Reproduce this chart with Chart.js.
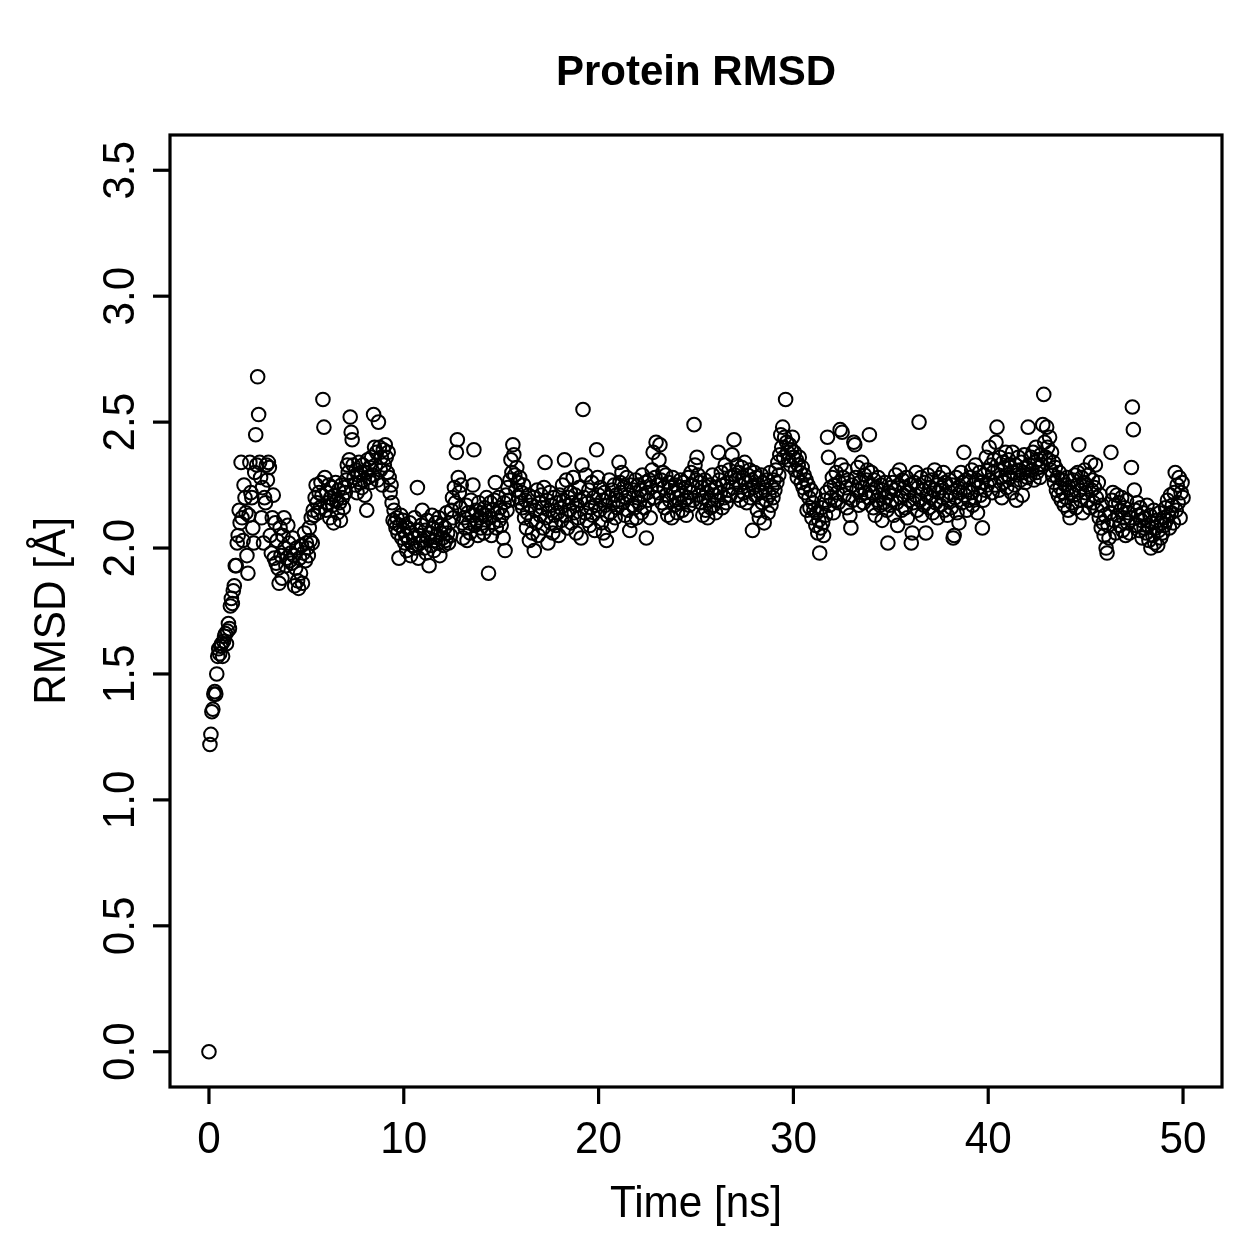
<!DOCTYPE html>
<html>
<head>
<meta charset="utf-8">
<script src="https://cdn.jsdelivr.net/npm/chart.js@4/dist/chart.umd.min.js"></script>
<style>
html,body{margin:0;padding:0;background:#fff;}
canvas{display:block;}
</style>
</head>
<body>
<canvas id="c" width="1259" height="1259" style="width:1259px;height:1259px"></canvas>
<script>
// ---- data ----
const chartTitle = "Protein RMSD";
const xTitle = "Time [ns]";
const yTitle = "RMSD [Å]";
const timeStepNs = 0.05; // one frame every 0.05 ns
const xTicks = [0, 10, 20, 30, 40, 50];
const xTickLabels = ["0", "10", "20", "30", "40", "50"];
const yTicks = [0, 0.5, 1, 1.5, 2, 2.5, 3, 3.5];
const yTickLabels = ["0.0", "0.5", "1.0", "1.5", "2.0", "2.5", "3.0", "3.5"];
const rmsd = [
0.00,
1.22,1.26,1.35,1.36,1.42,1.43,1.42,1.50,1.57,1.60,1.58,1.61,1.62,1.57,1.63,1.65,1.66,1.62,1.67,1.70,
1.68,1.77,1.80,1.78,1.83,1.85,1.93,1.93,2.02,2.05,2.15,2.10,2.34,2.12,2.03,2.25,2.20,2.14,1.97,1.90,
2.13,2.34,2.22,2.20,2.08,2.02,2.30,2.45,2.33,2.68,2.53,2.34,2.28,2.12,2.24,2.02,2.20,2.18,2.33,2.27,
2.34,2.32,2.05,1.98,2.12,2.21,1.96,2.10,1.94,2.03,1.92,1.86,2.08,1.97,1.88,2.05,2.12,2.00,1.93,1.96,
2.09,2.02,1.95,1.98,1.94,2.04,1.97,1.85,1.92,2.00,1.87,1.84,1.96,1.90,2.01,1.86,1.98,2.06,1.95,2.02,
2.00,1.97,2.08,2.03,2.12,2.02,2.15,2.13,2.20,2.25,2.18,2.14,2.22,2.16,2.26,2.21,2.59,2.48,2.28,2.15,
2.22,2.18,2.25,2.12,2.20,2.24,2.17,2.10,2.21,2.26,2.19,2.14,2.23,2.18,2.11,2.25,2.20,2.16,2.24,2.22,
2.27,2.33,2.30,2.35,2.52,2.46,2.43,2.33,2.28,2.25,2.31,2.22,2.29,2.34,2.26,2.30,2.24,2.33,2.27,2.21,
2.30,2.15,2.35,2.28,2.32,2.26,2.36,2.29,2.53,2.40,2.33,2.38,2.27,2.50,2.40,2.31,2.36,2.25,2.39,2.33,
2.41,2.36,2.30,2.38,2.28,2.22,2.25,2.18,2.11,2.15,2.10,2.08,2.12,2.06,1.96,2.09,2.13,2.04,2.11,2.07,
2.02,2.05,1.99,2.08,2.03,2.10,1.97,2.06,2.01,2.04,2.12,2.00,2.07,2.24,1.96,2.05,2.02,2.09,2.15,2.03,
2.00,2.07,1.98,2.11,2.04,1.93,2.06,2.01,2.13,2.08,1.99,2.03,2.10,2.05,2.02,2.12,1.97,2.06,2.09,2.04,
2.01,2.08,2.03,2.14,2.06,2.02,2.10,2.05,2.15,2.20,2.12,2.24,2.18,2.38,2.43,2.28,2.22,2.16,2.25,2.10,
2.04,2.12,2.08,2.17,2.03,2.14,2.10,2.06,2.19,2.13,2.25,2.39,2.09,2.15,2.11,2.05,2.18,2.12,2.08,2.14,
2.10,2.06,2.16,2.13,2.20,2.08,1.90,2.12,2.18,2.05,2.15,2.10,2.19,2.26,2.08,2.14,2.20,2.11,2.16,2.09,
2.13,2.04,2.18,1.99,2.21,2.15,2.24,2.19,2.27,2.35,2.30,2.41,2.37,2.29,2.23,2.32,2.26,2.20,2.28,2.18,
2.22,2.16,2.25,2.12,2.19,2.08,2.14,2.21,2.03,2.17,2.11,2.06,2.20,1.99,2.15,2.10,2.23,2.05,2.18,2.13,
2.21,2.16,2.08,2.24,2.34,2.12,2.19,2.02,2.15,2.22,2.10,2.17,2.06,2.20,2.13,2.09,2.18,2.14,2.05,2.21,
2.16,2.11,2.25,2.19,2.35,2.13,2.27,2.08,2.20,2.15,2.22,2.10,2.18,2.28,2.14,2.21,2.06,2.17,2.12,2.24,
2.19,2.04,2.33,2.55,2.20,2.14,2.29,2.11,2.18,2.23,2.09,2.16,2.26,2.13,2.20,2.07,2.17,2.39,2.28,2.21,
2.15,2.24,2.10,2.19,2.06,2.22,2.17,2.03,2.13,2.20,2.27,2.14,2.09,2.23,2.18,2.25,2.12,2.21,2.16,2.19,
2.34,2.26,2.22,2.30,2.18,2.24,2.13,2.20,2.28,2.15,2.21,2.07,2.25,2.11,2.17,2.23,2.16,2.27,2.12,2.20,
2.25,2.18,2.23,2.14,2.29,2.21,2.16,2.26,2.04,2.22,2.19,2.27,2.12,2.24,2.31,2.38,2.20,2.28,2.42,2.25,
2.22,2.35,2.41,2.27,2.18,2.30,2.24,2.16,2.29,2.21,2.13,2.26,2.19,2.24,2.12,2.28,2.22,2.17,2.25,2.20,
2.14,2.23,2.18,2.27,2.21,2.15,2.26,2.19,2.24,2.13,2.20,2.28,2.17,2.22,2.30,2.25,2.19,2.49,2.33,2.27,
2.36,2.29,2.21,2.26,2.18,2.24,2.13,2.20,2.27,2.15,2.22,2.12,2.19,2.25,2.16,2.23,2.29,2.17,2.21,2.14,
2.24,2.19,2.38,2.27,2.22,2.30,2.16,2.25,2.20,2.33,2.18,2.26,2.23,2.31,2.21,2.28,2.37,2.24,2.43,2.29,
2.27,2.33,2.21,2.30,2.25,2.19,2.32,2.28,2.22,2.34,2.26,2.18,2.29,2.23,2.31,2.20,2.27,2.07,2.24,2.30,
2.21,2.28,2.15,2.25,2.12,2.22,2.29,2.18,2.26,2.10,2.23,2.19,2.27,2.14,2.21,2.30,2.17,2.24,2.20,2.27,
2.23,2.31,2.26,2.34,2.29,2.37,2.45,2.40,2.48,2.36,2.44,2.59,2.42,2.38,2.35,2.41,2.33,2.39,2.44,2.36,
2.38,2.31,2.35,2.28,2.33,2.36,2.30,2.26,2.32,2.24,2.29,2.22,2.27,2.15,2.25,2.20,2.16,2.23,2.12,2.18,
2.15,2.21,2.09,2.14,2.06,2.11,1.98,2.08,2.16,2.10,2.05,2.19,2.13,2.22,2.44,2.36,2.17,2.24,2.20,2.28,
2.14,2.25,2.19,2.30,2.22,2.18,2.26,2.47,2.33,2.46,2.28,2.21,2.31,2.24,2.16,2.27,2.20,2.13,2.08,2.25,
2.19,2.42,2.41,2.28,2.23,2.32,2.17,2.26,2.21,2.34,2.24,2.18,2.29,2.22,2.27,2.31,2.20,2.45,2.25,2.30,
2.22,2.16,2.27,2.13,2.24,2.19,2.28,2.21,2.17,2.25,2.11,2.23,2.18,2.26,2.20,2.15,2.02,2.22,2.17,2.24,
2.19,2.26,2.13,2.23,2.29,2.18,2.09,2.25,2.31,2.20,2.15,2.27,2.21,2.24,2.16,2.28,2.12,2.22,2.19,2.25,
2.02,2.06,2.18,2.26,2.21,2.30,2.15,2.24,2.50,2.19,2.28,2.13,2.23,2.17,2.26,2.06,2.21,2.29,2.16,2.24,
2.20,2.27,2.14,2.23,2.31,2.18,2.25,2.12,2.22,2.28,2.17,2.24,2.20,2.30,2.15,2.26,2.21,2.13,2.19,2.27,
2.22,2.16,2.25,2.04,2.05,2.20,2.28,2.14,2.24,2.10,2.22,2.30,2.18,2.26,2.38,2.21,2.27,2.15,2.23,2.19,
2.28,2.22,2.31,2.17,2.25,2.20,2.33,2.27,2.14,2.24,2.30,2.21,2.26,2.08,2.19,2.29,2.23,2.36,2.25,2.31,
2.40,2.27,2.33,2.22,2.30,2.35,2.25,2.42,2.48,2.31,2.23,2.36,2.28,2.20,2.34,2.26,2.32,2.38,2.24,2.29,
2.35,2.28,2.32,2.22,2.38,2.30,2.25,2.33,2.19,2.29,2.36,2.31,2.27,2.34,2.21,2.30,2.37,2.26,2.32,2.28,
2.48,2.33,2.29,2.36,2.31,2.38,2.27,2.34,2.40,2.30,2.35,2.32,2.28,2.37,2.33,2.49,2.61,2.42,2.36,2.48,
2.40,2.35,2.44,2.31,2.38,2.29,2.34,2.26,2.32,2.23,2.28,2.21,2.30,2.24,2.19,2.27,2.22,2.17,2.25,2.20,
2.28,2.15,2.24,2.12,2.22,2.18,2.27,2.21,2.29,2.16,2.25,2.30,2.41,2.23,2.19,2.28,2.14,2.26,2.31,2.22,
2.25,2.19,2.29,2.16,2.34,2.23,2.27,2.18,2.24,2.33,2.20,2.15,2.26,2.12,2.21,2.08,2.17,2.10,2.05,2.13,
2.00,1.98,2.09,2.04,2.14,2.38,2.19,2.22,2.11,2.17,2.06,2.21,2.13,2.18,2.09,2.15,2.20,2.07,2.12,2.16,
2.05,2.19,2.10,2.14,2.06,2.12,2.32,2.56,2.47,2.23,2.15,2.09,2.18,2.13,2.07,2.16,2.11,2.04,2.14,2.08,
2.12,2.06,2.17,2.09,2.03,2.13,2.00,2.10,2.05,2.15,2.02,2.08,2.11,2.01,2.07,2.14,2.04,2.10,2.06,2.12,
2.09,2.16,2.11,2.19,2.13,2.08,2.21,2.14,2.17,2.10,2.22,2.30,2.15,2.25,2.18,2.28,2.12,2.22,2.26,2.20
];
// ---- build chart ----
const points = rmsd.map((v, i) => ({ x: Math.round(i * timeStepNs * 100) / 100, y: v }));
const FONT = '"Liberation Sans", Arial, Helvetica, sans-serif';

function drawText(ctx, txt, x, y, size, bold, rot, align, sx) {
  ctx.save();
  ctx.translate(x, y);
  if (rot) ctx.rotate(rot);
  ctx.scale(sx, 1);
  ctx.font = (bold ? 'bold ' : '') + size + 'px ' + FONT;
  ctx.textAlign = align;
  ctx.textBaseline = 'alphabetic';
  ctx.fillStyle = '#000';
  ctx.fillText(txt, 0, 0);
  ctx.restore();
}

const frame = {
  id: 'rframe',
  beforeDraw(chart) {
    const ctx = chart.ctx;
    ctx.save();
    ctx.fillStyle = '#fff';
    ctx.fillRect(0, 0, chart.width, chart.height);
    ctx.restore();
  },
  afterDraw(chart) {
    const ctx = chart.ctx;
    const a = chart.chartArea;
    const xs = chart.scales.x, ys = chart.scales.y;
    ctx.save();
    ctx.strokeStyle = '#000';
    ctx.lineWidth = 3.2;
    ctx.lineCap = 'square';
    ctx.strokeRect(a.left, a.top, a.right - a.left, a.bottom - a.top);
    ctx.lineCap = 'butt';
    // x axis ticks + labels
    xTicks.forEach((t, i) => {
      const px = xs.getPixelForValue(t);
      ctx.beginPath();
      ctx.moveTo(px, a.bottom);
      ctx.lineTo(px, a.bottom + 17);
      ctx.stroke();
      drawText(ctx, xTickLabels[i], px, 1153, 44, false, 0, 'center', 0.96);
    });
    // y axis ticks + labels
    yTicks.forEach((t, i) => {
      const py = ys.getPixelForValue(t);
      ctx.beginPath();
      ctx.moveTo(a.left, py);
      ctx.lineTo(a.left - 17, py);
      ctx.stroke();
      drawText(ctx, yTickLabels[i], 134, py, 44, false, -Math.PI / 2, 'center', 0.96);
    });
    ctx.restore();
    drawText(ctx, chartTitle, (a.left + a.right) / 2, 85, 42, true, 0, 'center', 1);
    drawText(ctx, xTitle, (a.left + a.right) / 2, 1217, 44, false, 0, 'center', 0.96);
    drawText(ctx, yTitle, 65, (a.top + a.bottom) / 2, 44, false, -Math.PI / 2, 'center', 0.96);
  }
};

new Chart(document.getElementById('c'), {
  type: 'scatter',
  data: {
    datasets: [{
      data: points,
      pointStyle: 'circle',
      pointRadius: 6.8,
      pointBorderWidth: 2,
      pointBackgroundColor: 'rgba(0,0,0,0)',
      pointBorderColor: '#000',
      showLine: false
    }]
  },
  options: {
    responsive: false,
    animation: false,
    devicePixelRatio: 1,
    layout: { padding: { left: 170, top: 135, right: 37, bottom: 172 } },
    scales: {
      x: { type: 'linear', min: -2, max: 52, display: false },
      y: { type: 'linear', min: -0.14, max: 3.64, display: false }
    },
    plugins: { legend: { display: false }, tooltip: { enabled: false }, title: { display: false } }
  },
  plugins: [frame]
});
</script>
</body>
</html>
